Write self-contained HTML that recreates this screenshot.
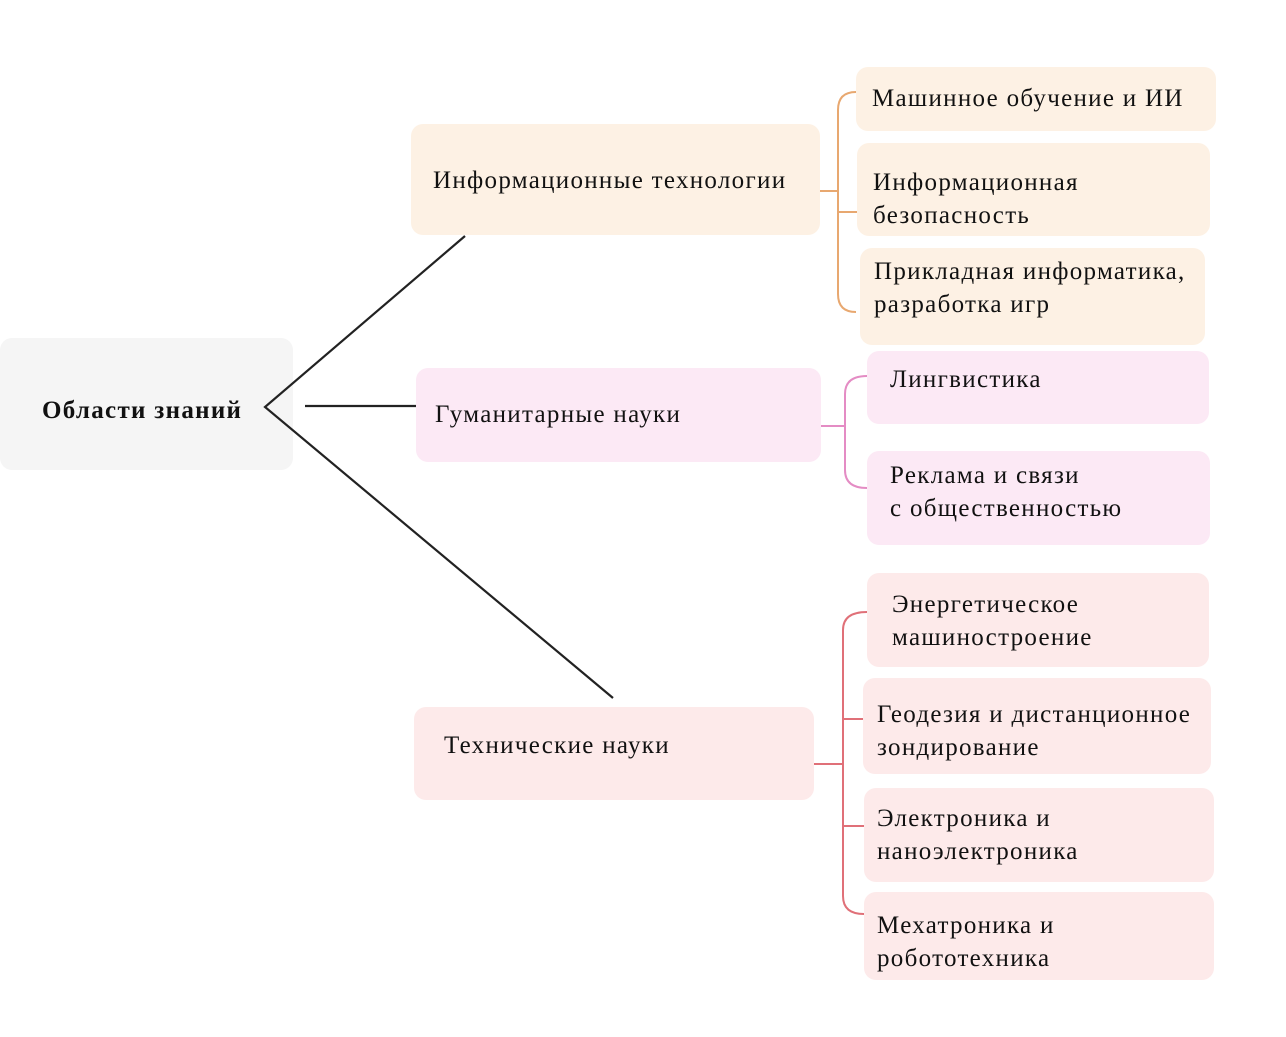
<!DOCTYPE html>
<html><head><meta charset="utf-8"><style>
body{margin:0;width:1286px;height:1037px;background:#fff;position:relative;overflow:hidden;font-family:"Liberation Serif",serif;color:#111}
.b{position:absolute;border-radius:12px;font-size:25px;letter-spacing:1.3px;line-height:33px;box-sizing:border-box;white-space:nowrap}
.o{background:#fdf1e4}.p{background:#fce9f5}.r{background:#fdeaea}
svg{position:absolute;left:0;top:0}
</style></head><body>
<div class="b" style="left:0;top:338px;width:293px;height:132px;background:#f5f5f5"></div>
<div class="b" style="left:42px;top:394px;font-weight:bold">Области знаний</div>

<div class="b o" style="left:411px;top:124px;width:409px;height:111px"></div>
<div class="b" style="left:433px;top:164px">Информационные технологии</div>
<div class="b p" style="left:416px;top:368px;width:405px;height:94px"></div>
<div class="b" style="left:435px;top:398px">Гуманитарные науки</div>
<div class="b r" style="left:414px;top:707px;width:400px;height:93px"></div>
<div class="b" style="left:444px;top:729px">Технические науки</div>

<div class="b o" style="left:856px;top:67px;width:360px;height:64px;padding:15px 0 0 16px">Машинное обучение и ИИ</div>
<div class="b o" style="left:857px;top:143px;width:353px;height:93px;padding:23px 0 0 16px">Информационная<br>безопасность</div>
<div class="b o" style="left:860px;top:248px;width:345px;height:97px;padding:7px 0 0 14px">Прикладная информатика,<br>разработка игр</div>

<div class="b p" style="left:867px;top:351px;width:342px;height:73px;padding:12px 0 0 23px">Лингвистика</div>
<div class="b p" style="left:867px;top:451px;width:343px;height:94px;padding:8px 0 0 23px">Реклама и связи<br>с общественностью</div>

<div class="b r" style="left:867px;top:573px;width:342px;height:94px;padding:15px 0 0 25px">Энергетическое<br>машиностроение</div>
<div class="b r" style="left:863px;top:678px;width:348px;height:96px;padding:20px 0 0 14px">Геодезия и дистанционное<br>зондирование</div>
<div class="b r" style="left:864px;top:788px;width:350px;height:94px;padding:14px 0 0 13px">Электроника и<br>наноэлектроника</div>
<div class="b r" style="left:864px;top:892px;width:350px;height:88px;padding:17px 0 0 13px">Мехатроника и<br>робототехника</div>

<svg width="1286" height="1037">
<g stroke="#222" stroke-width="2.2" fill="none">
<path d="M465 236 L265 407 L613 698"/>
<path d="M305 406 L416 406"/>
</g>
<g stroke="#e8a870" stroke-width="2" fill="none">
<path d="M856 92 Q838 92 838 110 L838 294 Q838 312 856 312"/>
<path d="M820 191 L838 191 M838 212 L857 212"/>
</g>
<g stroke="#e48cc4" stroke-width="2" fill="none">
<path d="M867 376 Q845 376 845 394 L845 470 Q845 488 867 488"/>
<path d="M821 426 L845 426"/>
</g>
<g stroke="#e07078" stroke-width="2" fill="none">
<path d="M867 612 Q843 612 843 630 L843 896 Q843 914 864 914"/>
<path d="M814 764 L843 764 M843 719 L863 719 M843 826 L864 826"/>
</g>
</svg>
</body></html>
